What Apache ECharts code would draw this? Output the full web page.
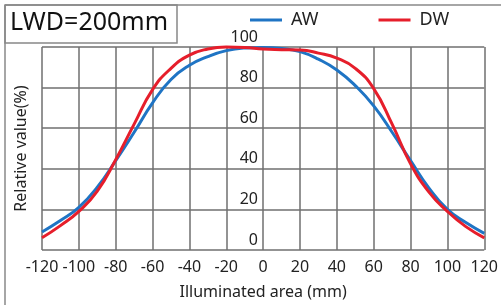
<!DOCTYPE html>
<html>
<head>
<meta charset="utf-8">
<script src="https://cdn.jsdelivr.net/npm/echarts@6/dist/echarts.min.js"></script>
<style>
  html, body { margin: 0; padding: 0; background: #fff; }
  #chart { width: 501px; height: 305px; }
</style>
</head>
<body>
<div id="chart"></div>
<script>
// illuminated area positions (mm)
const positions = [-120, -110, -100, -90, -80, -70, -60, -50, -40, -30, -20, -10, 0,
  10, 20, 30, 40, 50, 60, 70, 80, 90, 100, 110, 120];
// relative value (%)
const awValues = [8.9, 14.5, 21, 31, 44, 58, 72.5, 84, 91, 95.3, 98.2, 99.5, 99.8,
  99.3, 97.7, 94, 88.7, 81, 71, 58, 44, 30.5, 20, 13.5, 8.2];
const dwValues = [6, 12, 19, 29, 44.5, 62, 79, 89.5, 96, 99, 100, 99.8, 99,
  98.7, 98.5, 97, 94.5, 89.5, 79.5, 62, 42.5, 28.5, 19, 11.5, 6];
const xTicks = [-120, -100, -80, -60, -40, -20, 0, 20, 40, 60, 80, 100, 120];
const yTicks = [0, 20, 40, 60, 80, 100];

const font = 'Noto Sans';
const gridColor = '#6f6f6f';

const chart = echarts.init(document.getElementById('chart'));

const pair = (vals) => positions.map((x, i) => [x, vals[i]]);

chart.setOption({
  animation: false,
  textStyle: { fontFamily: font },
  grid: { left: 42, right: 16, top: 47, bottom: 55 },
  legend: {
    top: 6,
    left: 245,
    itemGap: 60,
    itemWidth: 32,
    itemHeight: 3,
    icon: 'rect',
    textStyle: { fontFamily: font, fontSize: 18, color: '#222', padding: [0, 0, 0, 4] },
    data: ['AW', 'DW'],
  },
  xAxis: {
    type: 'value',
    min: -120,
    max: 120,
    interval: 20,
    name: 'Illuminated area (mm)',
    nameLocation: 'middle',
    nameGap: 34,
    nameTextStyle: { fontFamily: font, fontSize: 16, color: '#222' },
    axisLine: { show: false },
    axisTick: { show: false },
    axisLabel: {
      margin: 9,
      fontSize: 16,
      color: '#222',
      fontFamily: font,
      customValues: xTicks,
    },
    splitLine: { show: true, lineStyle: { color: gridColor, width: 1.5 } },
  },
  yAxis: {
    type: 'value',
    min: 0,
    max: 100,
    interval: 20,
    position: 'left',
    offset: -221,
    name: 'Relative value(%)',
    nameLocation: 'middle',
    nameRotate: 90,
    nameGap: 234,
    nameTextStyle: { fontFamily: font, fontSize: 16, color: '#222' },
    axisLine: { show: false },
    axisTick: { show: false },
    axisLabel: {
      margin: 5,
      fontSize: 16,
      color: '#222',
      fontFamily: font,
      verticalAlign: 'bottom',
      padding: [0, 0, 2, 0],
      customValues: yTicks,
    },
    splitLine: { show: true, lineStyle: { color: gridColor, width: 1.5 } },
  },
  series: [
    {
      name: 'AW',
      type: 'line',
      data: pair(awValues),
      smooth: 0.5,
      showSymbol: false,
      clip: false,
      lineStyle: { color: '#1f74c4', width: 3 },
      itemStyle: { color: '#1f74c4' },
    },
    {
      name: 'DW',
      type: 'line',
      data: pair(dwValues),
      smooth: 0.5,
      showSymbol: false,
      clip: false,
      lineStyle: { color: '#e61e2b', width: 3 },
      itemStyle: { color: '#e61e2b' },
    },
  ],
  graphic: [
    { type: 'line', shape: { x1: 5, y1: 5, x2: 501, y2: 5 }, style: { stroke: '#888', lineWidth: 1.5 } },
    { type: 'line', shape: { x1: 5, y1: 5, x2: 5, y2: 305 }, style: { stroke: '#888', lineWidth: 1.5 } },
    { type: 'rect', shape: { x: 5, y: 5, width: 172, height: 38 }, style: { fill: 'none', stroke: '#888', lineWidth: 1.5 } },
    {
      type: 'text',
      left: 10,
      top: 10,
      style: { text: 'LWD=200mm', fontFamily: font, fontSize: 25, fill: '#111' },
    },
  ],
});
</script>
</body>
</html>
